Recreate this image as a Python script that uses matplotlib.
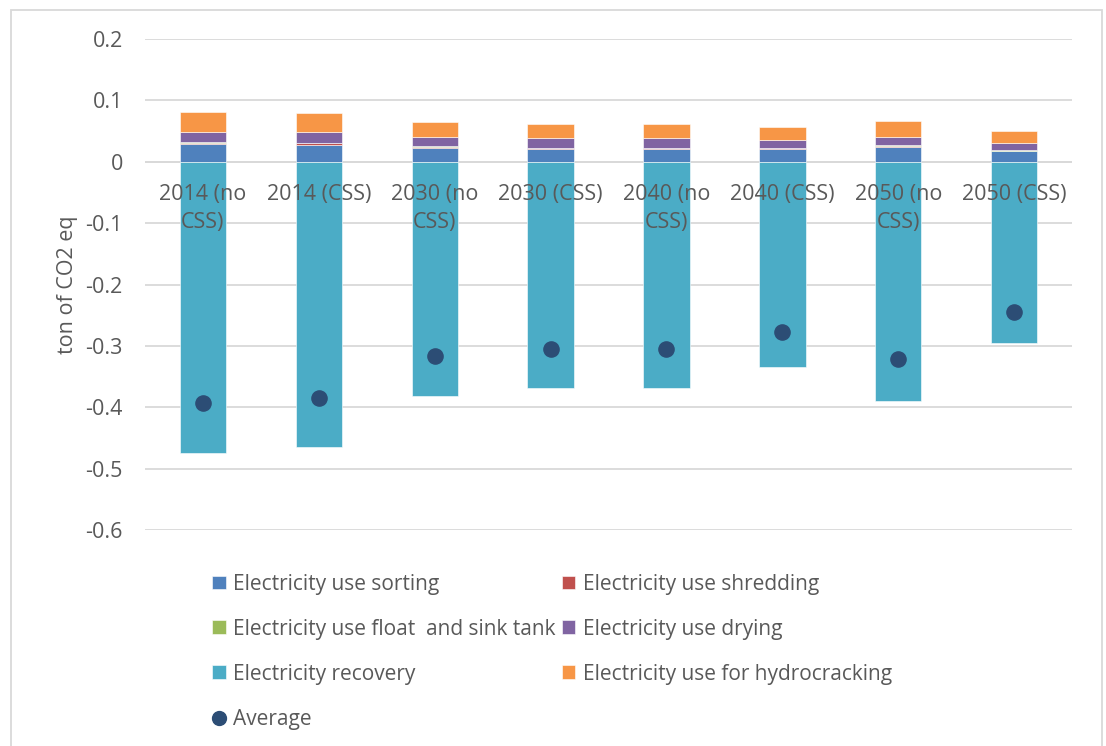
import numpy as np
import matplotlib
matplotlib.use("Agg")
import matplotlib.pyplot as plt
from matplotlib.patches import Rectangle
from matplotlib.lines import Line2D

plt.rcParams['font.family'] = ['Open Sans', 'DejaVu Sans']

# Data (ton of CO2 eq)
categories = ["2014 (no\nCSS)", "2014 (CSS)", "2030 (no\nCSS)", "2030 (CSS)",
              "2040 (no\nCSS)", "2040 (CSS)", "2050 (no\nCSS)", "2050 (CSS)"]
sorting = [0.029, 0.027, 0.022, 0.021, 0.021, 0.021, 0.024, 0.017]
shredding = [0.002, 0.003, 0.002, 0.0015, 0.0015, 0.0015, 0.002, 0.001]
float_sink = [0.001, 0.001, 0.001, 0.0005, 0.0005, 0.0005, 0.002, 0.001]
drying = [0.017, 0.017, 0.015, 0.015, 0.015, 0.012, 0.013, 0.011]
hydrocracking = [0.032, 0.031, 0.025, 0.024, 0.024, 0.022, 0.025, 0.020]
recovery = [-0.474, -0.465, -0.381, -0.369, -0.369, -0.334, -0.389, -0.295]
average = [-0.3935, -0.385, -0.316, -0.305, -0.305, -0.277, -0.322, -0.244]

series = [
    ("Electricity use sorting", sorting, "#4F81BD"),
    ("Electricity use shredding", shredding, "#C0504D"),
    ("Electricity use float  and sink tank", float_sink, "#9BBB59"),
    ("Electricity use drying", drying, "#8064A2"),
    ("Electricity use for hydrocracking", hydrocracking, "#F79646"),
]

fig = plt.figure(figsize=(11.06, 7.46), dpi=100)
ax = fig.add_axes([0.1311, 0.2895, 0.8382, 0.6582])

x = np.arange(len(categories))
w = 0.4
handles = {}
bottom = np.zeros(len(categories))
for name, vals, col in series:
    b = ax.bar(x, vals, w, bottom=bottom, color=col, edgecolor="white",
               linewidth=0.4, zorder=3)
    bottom = bottom + np.array(vals)
    handles[name] = b
rb = ax.bar(x, recovery, w, color="#4BACC6", edgecolor="white", linewidth=0.4, zorder=3)
handles["Electricity recovery"] = rb
ax.scatter(x, average, s=120, color="#2C4D75", zorder=4)
avg_handle = Line2D([], [], marker="o", linestyle="none", color="#2C4D75", markersize=10)

ax.set_xlim(-0.5, len(categories) - 0.5)
ax.set_ylim(-0.6, 0.2)
ax.set_yticks(np.arange(-0.6, 0.21, 0.1))
ax.set_yticklabels(["-0.6", "-0.5", "-0.4", "-0.3", "-0.2", "-0.1", "0", "0.1", "0.2"])
ax.yaxis.grid(True, color="#D9D9D9", linewidth=1.3, zorder=0)
ax.set_axisbelow(True)
ax.tick_params(axis="y", length=0, labelsize=15.5, labelcolor="#595959", pad=16)
ax.tick_params(axis="x", length=0, labelbottom=False)
for s in ax.spines.values():
    s.set_visible(False)
ax.axhline(0, color="#D9D9D9", linewidth=1.3, zorder=1)

for xi, lab in zip(x, categories):
    ax.text(xi, -0.036, lab, ha="center", va="top", fontsize=15.5,
            color="#595959", linespacing=1.42, zorder=5)

ax.set_ylabel("ton of CO2 eq", fontsize=15.5, color="#595959", labelpad=5)

order = ["Electricity use sorting", "Electricity use float  and sink tank",
         "Electricity recovery", None,
         "Electricity use shredding", "Electricity use drying",
         "Electricity use for hydrocracking"]
hl, ll = [], []
for name in order:
    if name is None:
        hl.append(avg_handle)
        ll.append("Average")
    else:
        hl.append(handles[name])
        ll.append(name)
leg = fig.legend(hl, ll, ncol=2, loc="upper left", bbox_to_anchor=(0.175, 0.256),
                 frameon=False, fontsize=15, labelcolor="#595959",
                 handlelength=0.65, handleheight=0.65, handletextpad=0.35,
                 columnspacing=0.3, labelspacing=1.15)

fig.patches.append(Rectangle((11 / 1106, -0.05), 1091 / 1106, 1.05 - 10 / 746,
                             transform=fig.transFigure, fill=False,
                             edgecolor="#D9D9D9", linewidth=1.3))

fig.savefig("out.png", dpi=100)
